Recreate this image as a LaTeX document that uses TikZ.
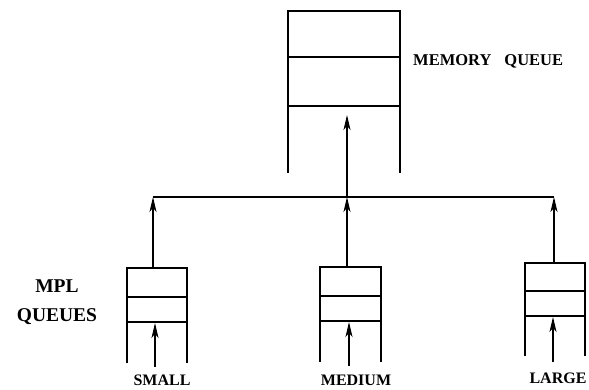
\documentclass[tikz,border=0pt]{standalone}
\usepackage{fontspec}
\setmainfont{Liberation Serif}
\usetikzlibrary{arrows.meta}
\begin{document}
\begin{tikzpicture}[x=1pt,y=-1pt,
  qline/.style={line width=1.3pt},
  uparrow/.style={line width=1.3pt,-{Stealth[length=15pt,width=7pt,inset=4pt]}},
  lbl/.style={font=\fontsize{16}{18}\selectfont\bfseries,inner sep=0pt},
  memlblstyle/.style={font=\fontsize{16.5}{18}\selectfont\bfseries,inner sep=0pt},
  biglbl/.style={font=\fontsize{19.5}{29}\selectfont\bfseries,inner sep=0pt,align=center}]
\useasboundingbox (0,0) rectangle (589,389);

% memory queue
\draw[qline] (288,173) -- (288,11) -- (400,11) -- (400,173);
\draw[qline] (288,57) -- (400,57);
\draw[qline] (288,106) -- (400,106);
\coordinate (memin) at (347,115);
\node[memlblstyle,anchor=west] (memlbl) at (413,61) {MEMORY\hspace{13pt}QUEUE};

% bus
\coordinate (busL) at (153,197);
\coordinate (busM) at (347,197);
\coordinate (busR) at (554,197);
\draw[qline] (busL) -- (busR);
\draw[uparrow] (busM) -- (memin);

% small queue
\draw[qline] (127,363) -- (127,268) -- (187,268) -- (187,363);
\draw[qline] (127,297) -- (187,297);
\draw[qline] (127,322) -- (187,322);
\coordinate (smtop) at (153,268);
\coordinate (smin) at (155,323);
\coordinate (smsrc) at (155,367);
\draw[uparrow] (smtop) -- (busL);
\draw[uparrow] (smsrc) -- (smin);
\node[lbl] (smlbl) at (162,380) {SMALL};

% medium queue
\draw[qline] (320,362) -- (320,267) -- (381,267) -- (381,362);
\draw[qline] (320,296) -- (381,296);
\draw[qline] (320,321) -- (381,321);
\coordinate (mdtop) at (347,267);
\coordinate (mdin) at (349,322);
\coordinate (mdsrc) at (349,366);
\draw[uparrow] (mdtop) -- (busM);
\draw[uparrow] (mdsrc) -- (mdin);
\node[lbl] (mdlbl) at (356,380) {MEDIUM};

% large queue
\draw[qline] (525,356) -- (525,263) -- (585,263) -- (585,356);
\draw[qline] (525,291) -- (585,291);
\draw[qline] (525,316) -- (585,316);
\coordinate (lgtop) at (554,263);
\coordinate (lgin) at (553,317);
\coordinate (lgsrc) at (553,362);
\draw[uparrow] (lgtop) -- (busR);
\draw[uparrow] (lgsrc) -- (lgin);
\node[lbl] (lglbl) at (558,378) {LARGE};

% MPL queues label
\node[biglbl] (mpl) at (57,302) {MPL\\QUEUES};
\end{tikzpicture}
\end{document}
